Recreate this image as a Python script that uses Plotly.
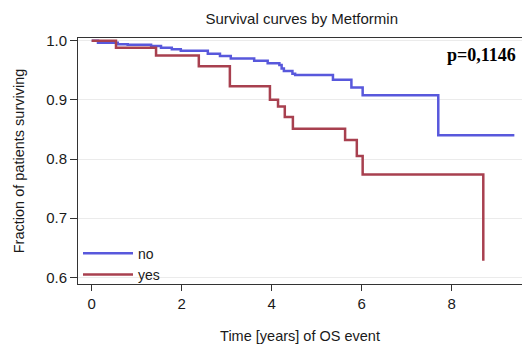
import plotly.graph_objects as go

# Kaplan-Meier step data
no_t = [0, 0.14, 0.58, 0.80, 1.32, 1.54, 1.78, 1.98, 2.58, 2.85, 3.09, 3.61, 3.91,
        4.17, 4.22, 4.27, 4.46, 4.52, 5.36, 5.77, 6.02, 7.70, 9.39]
no_s = [1.0, 0.9966, 0.994, 0.993, 0.991, 0.988, 0.9855, 0.983, 0.978, 0.974, 0.970,
        0.966, 0.962, 0.959, 0.953, 0.949, 0.944, 0.942, 0.934, 0.921, 0.908, 0.840, 0.840]

yes_t = [0, 0.54, 1.43, 2.38, 3.07, 3.96, 4.14, 4.29, 4.47, 5.63, 5.89, 6.02, 8.70]
yes_s = [1.0, 0.988, 0.975, 0.957, 0.923, 0.900, 0.889, 0.871, 0.851, 0.832, 0.805,
         0.774, 0.628]

x_ticks = [0, 2, 4, 6, 8]
y_ticks = [0.6, 0.7, 0.8, 0.9, 1.0]
y_tick_labels = ["0.6", "0.7", "0.8", "0.9", "1.0"]

fig = go.Figure()
fig.add_trace(go.Scatter(x=no_t, y=no_s, mode="lines", name="no",
                         line=dict(color="#5858dc", width=2.5, shape="hv")))
fig.add_trace(go.Scatter(x=yes_t, y=yes_s, mode="lines", name="yes",
                         line=dict(color="#a8404f", width=2.5, shape="hv")))

font = "Liberation Sans, Arial, sans-serif"
fig.update_layout(
    width=522, height=345,
    margin=dict(l=78, r=0, t=38, b=61),
    plot_bgcolor="white", paper_bgcolor="white",
    font=dict(family=font, size=15, color="#1a1a1a"),
    title=dict(text="Survival curves by Metformin", x=0.578, xanchor="center",
               y=0.945, yanchor="middle", font=dict(size=15, family=font, color="#1a1a1a")),
    showlegend=True,
    legend=dict(x=0.0, y=-0.027, xanchor="left", yanchor="bottom",
                bgcolor="rgba(0,0,0,0)", font=dict(size=14), itemwidth=50,
                tracegroupgap=0),
    xaxis=dict(range=[-0.304, 9.56], tickvals=x_ticks, ticks="outside", ticklen=6,
               tickcolor="#333", showline=True, linecolor="#333", linewidth=1,
               mirror=True, showgrid=False, zeroline=False, tickfont=dict(size=15),
               title=dict(text="Time [years] of OS event", font=dict(size=14.5), standoff=19)),
    yaxis=dict(range=[0.5887, 1.0046], tickvals=y_ticks, ticktext=y_tick_labels,
               ticks="outside", ticklen=7, tickcolor="#333", showline=True,
               linecolor="#333", linewidth=1, showgrid=True, gridcolor="#ebebeb",
               zeroline=False, tickfont=dict(size=15),
               title=dict(text="Fraction of patients surviving", font=dict(size=14.5), standoff=18)),
)

fig.add_annotation(text="<b>p=0,1146</b>", xref="paper", yref="paper", x=0.99, y=0.98,
                   xanchor="right", yanchor="top", showarrow=False,
                   font=dict(family="Liberation Serif, Times New Roman, serif", size=18,
                             color="black"))

fig.write_html("out.html")
